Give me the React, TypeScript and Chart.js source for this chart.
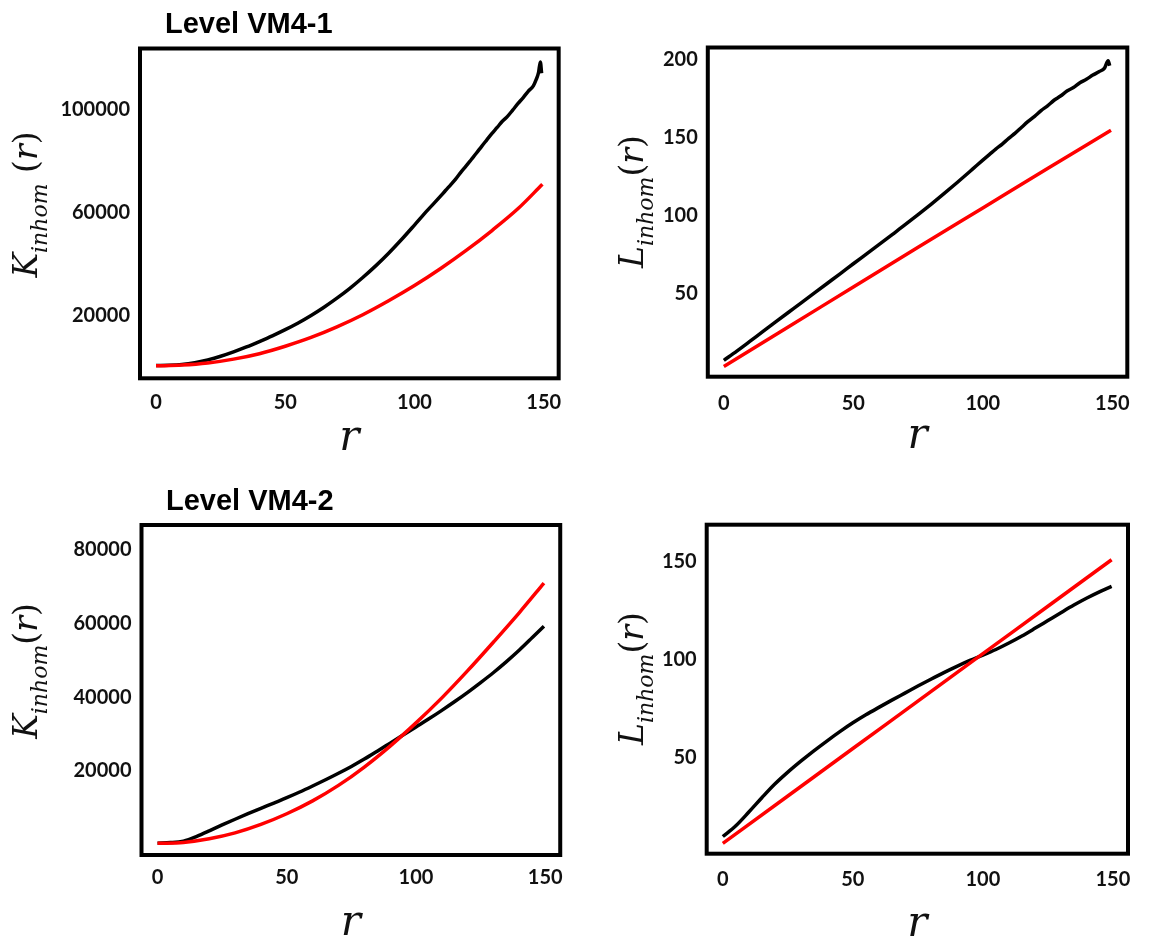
import React, { useEffect, useRef } from "react";
import { Chart, registerables } from "chart.js";

Chart.register(...registerables);

// ---------- shared ----------
const X_TICKS = [0, 50, 100, 150];
const X_MIN = -6.2;
const X_MAX = 155.8;

// ---------- Level VM4-1 : K_inhom(r) ----------
const TL_TITLE = "Level VM4-1";
const TL_Y_TICKS = [20000, 60000, 100000];
const TL_BLACK_R = [0, 5, 10, 15, 20, 25, 30, 35, 40, 45, 50, 55, 60, 65, 70, 75, 80, 85, 90, 95, 100, 105, 110, 112, 114, 116, 118, 120, 122, 124, 126, 128, 130, 132, 134, 136, 138, 140, 142, 144, 146, 147, 148, 148.7, 149.2];
const TL_BLACK_K = [800, 900, 1200, 1900, 3000, 4400, 6100, 8000, 10100, 12300, 14700, 17300, 20200, 23400, 26900, 30700, 34900, 39400, 44300, 49600, 55200, 60900, 66300, 68600, 70800, 73100, 75700, 78100, 80600, 83100, 85700, 88200, 90700, 93000, 95400, 97300, 99700, 102200, 104500, 107000, 109100, 111300, 114200, 118400, 114000];
const TL_RED_R = [0, 10, 20, 30, 40, 50, 60, 70, 80, 90, 100, 110, 120, 130, 140, 149.5];
const TL_RED_K = [700, 1000, 1800, 3300, 5400, 8300, 11700, 15800, 20500, 25900, 31800, 38300, 45400, 53100, 61500, 71000];

// ---------- Level VM4-1 : L_inhom(r) ----------
const TR_Y_TICKS = [50, 100, 150, 200];
const TR_BLACK_R = [0, 5, 10, 15, 20, 25, 30, 35, 40, 45, 50, 55, 60, 65, 70, 75, 80, 85, 90, 95, 97.5, 100, 102.5, 105, 107.5, 110, 112.5, 115, 117.5, 120, 122.5, 125, 127.5, 130, 132.5, 135, 137.5, 140, 142.5, 145, 147, 148.4, 149];
const TR_BLACK_L = [7.5, 13.4, 19.6, 25.9, 32.1, 38.3, 44.5, 50.7, 56.9, 63.1, 69.4, 75.6, 81.8, 88.1, 94.4, 100.9, 107.5, 114.3, 121.3, 128.5, 132.2, 135.8, 139.3, 142.9, 146.1, 149.8, 153.1, 156.9, 160.6, 163.9, 167.6, 170.6, 174.2, 176.9, 180.1, 182.3, 185.4, 187.6, 190.3, 192.6, 194.8, 199.5, 196.3];
const TR_RED_R = [0, 25, 50, 75, 100, 125, 149.5];
const TR_RED_L = [3.5, 29, 54.5, 80, 105.2, 130.4, 155];

// ---------- Level VM4-2 : K_inhom(r) ----------
const BL_TITLE = "Level VM4-2";
const BL_Y_TICKS = [20000, 40000, 60000, 80000];
const BL_BLACK_R = [0, 5, 10, 12, 15, 20, 25, 30, 35, 40, 45, 50, 55, 60, 65, 70, 75, 80, 85, 90, 95, 100, 105, 110, 115, 120, 125, 130, 135, 140, 145, 149.5];
const BL_BLACK_K = [250, 450, 850, 1250, 2100, 3650, 5250, 6800, 8300, 9750, 11200, 12650, 14200, 15850, 17550, 19300, 21150, 23150, 25300, 27500, 29700, 31900, 34100, 36400, 38800, 41300, 43950, 46700, 49650, 52800, 56200, 59300];
const BL_RED_R = [0, 10, 20, 30, 40, 50, 60, 70, 80, 90, 100, 110, 120, 130, 140, 149.5];
const BL_RED_K = [250, 500, 1500, 3100, 5400, 8300, 11800, 16000, 21000, 26700, 33000, 39800, 47200, 55000, 63000, 71000];

// ---------- Level VM4-2 : L_inhom(r) ----------
const BR_Y_TICKS = [50, 100, 150];
const BR_BLACK_R = [0, 5, 10, 15, 20, 25, 30, 35, 40, 45, 50, 55, 60, 65, 70, 75, 80, 85, 90, 95, 100, 105, 110, 115, 120, 125, 130, 135, 140, 145, 149.5];
const BR_BLACK_L = [9.5, 15, 22, 29.3, 36.3, 42.4, 48, 53.3, 58.3, 63.1, 67.6, 71.7, 75.5, 79.2, 82.8, 86.4, 89.9, 93.3, 96.5, 99.5, 102.2, 105.1, 108.4, 112, 115.9, 119.9, 123.9, 127.8, 131.4, 134.7, 137.4];
const BR_RED_R = [0, 25, 50, 75, 100, 125, 149.5];
const BR_RED_L = [6, 30.2, 54.5, 78.7, 103, 127.2, 151];

// ---------- styles ----------
const BLACK = "#000000";
const RED = "#ff0000";
const TICK_COLOR = "#111111";
const TICK_FONT = { family: "Lato", weight: "bold" as const, size: 20, lineHeight: 1.2 };

type PanelSpec = {
  left: number;
  top: number;
  width: number;
  height: number;
  padTop: number;
  padRight: number;
  yWidth: number;
  xHeight: number;
  yMin: number;
  yMax: number;
  yTicks: number[];
  xTickPad: number;
  xTitlePad: number;
  letter: string;
  space: boolean;
  labelX: number;
  labelY: number;
  title?: string;
  titleX?: number;
  titleY?: number;
  blackR: number[];
  blackV: number[];
  redR: number[];
  redV: number[];
};

const toPoints = (xs: number[], ys: number[]) => xs.map((x, i) => ({ x, y: ys[i] }));

function drawYLabel(ctx: CanvasRenderingContext2D, letter: string, space: boolean, bx: number, cy: number) {
  const main = 'italic 33px "DejaVu Serif"';
  const sub = 'italic 22px "DejaVu Serif"';
  const upright = '33px "DejaVu Serif"';
  const pieces: [string, string, number][] = [
    [letter, main, 0],
    ["inhom", sub, 10],
  ];
  if (space) pieces.push([" ", main, 0]);
  pieces.push(["(", upright, 0], ["r", main, 0], [")", upright, 0]);
  let total = 0;
  const widths: number[] = [];
  for (const [t, f] of pieces) {
    ctx.font = f;
    const w = ctx.measureText(t).width;
    widths.push(w);
    total += w;
  }
  ctx.save();
  ctx.translate(bx, cy);
  ctx.rotate(-Math.PI / 2);
  ctx.fillStyle = "#111111";
  ctx.textBaseline = "alphabetic";
  ctx.textAlign = "left";
  let x = -total / 2;
  pieces.forEach(([t, f, shift], i) => {
    ctx.font = f;
    ctx.fillText(t, x, shift);
    x += widths[i];
  });
  ctx.restore();
}

function Panel({ spec }: { spec: PanelSpec }) {
  const ref = useRef<HTMLCanvasElement | null>(null);
  useEffect(() => {
    if (!ref.current) return;
    const s = spec;
    const decor = {
      id: "decor",
      afterDraw(chart: any) {
        const ctx = chart.ctx as CanvasRenderingContext2D;
        const a = chart.chartArea;
        ctx.save();
        ctx.strokeStyle = "#000000";
        ctx.lineWidth = 4;
        ctx.strokeRect(a.left, a.top, a.right - a.left, a.bottom - a.top);
        ctx.restore();
        drawYLabel(ctx, s.letter, s.space, s.labelX, s.labelY);
        if (s.title) {
          ctx.save();
          ctx.font = 'bold 29px "Liberation Sans"';
          ctx.fillStyle = "#000000";
          ctx.textAlign = "left";
          ctx.textBaseline = "alphabetic";
          ctx.fillText(s.title, s.titleX || 0, s.titleY || 0);
          ctx.restore();
        }
      },
    };
    const chart = new Chart(ref.current, {
      type: "line",
      data: {
        datasets: [
          {
            data: toPoints(s.redR, s.redV),
            borderColor: RED,
            borderWidth: 3.5,
            pointRadius: 0,
            fill: false,
            cubicInterpolationMode: "monotone",
          },
          {
            data: toPoints(s.blackR, s.blackV),
            borderColor: BLACK,
            borderWidth: 3.5,
            pointRadius: 0,
            fill: false,
            cubicInterpolationMode: "monotone",
          },
        ],
      },
      options: {
        animation: false,
        responsive: false,
        maintainAspectRatio: false,
        events: [],
        layout: { padding: { left: 0, top: s.padTop, right: s.padRight, bottom: 0 } },
        plugins: {
          legend: { display: false },
          tooltip: { enabled: false },
          title: { display: false },
        },
        scales: {
          x: {
            type: "linear",
            min: X_MIN,
            max: X_MAX,
            grid: { display: false, drawTicks: false },
            border: { display: false },
            ticks: {
              font: TICK_FONT,
              color: TICK_COLOR,
              padding: s.xTickPad,
              maxRotation: 0,
              callback: (v: any) => String(v),
            },
            afterBuildTicks: (scale: any) => {
              scale.ticks = X_TICKS.map((v) => ({ value: v }));
            },
            afterFit: (scale: any) => {
              scale.height = s.xHeight;
            },
            title: {
              display: true,
              text: "r",
              color: "#111111",
              font: { family: "DejaVu Serif", style: "italic", size: 42, lineHeight: 0.5 },
              padding: { top: 0, bottom: s.xTitlePad },
            },
          },
          y: {
            type: "linear",
            min: s.yMin,
            max: s.yMax,
            grid: { display: false, drawTicks: false },
            border: { display: false },
            ticks: {
              font: TICK_FONT,
              color: TICK_COLOR,
              padding: 10,
              callback: (v: any) => String(v),
            },
            afterBuildTicks: (scale: any) => {
              scale.ticks = s.yTicks.map((v) => ({ value: v }));
            },
            afterFit: (scale: any) => {
              scale.width = s.yWidth;
            },
          },
        },
      } as any,
      plugins: [decor],
    });
    return () => chart.destroy();
  }, [spec]);
  return (
    <canvas
      ref={ref}
      width={spec.width}
      height={spec.height}
      style={{
        position: "absolute",
        left: spec.left,
        top: spec.top,
        width: spec.width,
        height: spec.height,
      }}
    />
  );
}

const PANELS: PanelSpec[] = [
  {
    left: 0, top: 0, width: 574, height: 468,
    padTop: 48.5, padRight: 11.5, yWidth: 140, xHeight: 89.7,
    yMin: -4124, yMax: 123580, yTicks: TL_Y_TICKS,
    xTickPad: 12.5, xTitlePad: 18.8,
    letter: "K", space: true, labelX: 37, labelY: 204.5,
    title: TL_TITLE, titleX: 165, titleY: 33.3,
    blackR: TL_BLACK_R, blackV: TL_BLACK_K, redR: TL_RED_R, redV: TL_RED_K,
  },
  {
    left: 574, top: 0, width: 575, height: 468,
    padTop: 47.5, padRight: 21.7, yWidth: 133.8, xHeight: 91.3,
    yMin: -3.0, yMax: 208, yTicks: TR_Y_TICKS,
    xTickPad: 15, xTitlePad: 20.8,
    letter: "L", space: false, labelX: 69, labelY: 201.5,
    blackR: TR_BLACK_R, blackV: TR_BLACK_L, redR: TR_RED_R, redV: TR_RED_L,
  },
  {
    left: 0, top: 468, width: 574, height: 468,
    padTop: 57, padRight: 10, yWidth: 141.5, xHeight: 81,
    yMin: -2920, yMax: 86800, yTicks: BL_Y_TICKS,
    xTickPad: 11, xTitlePad: 1.3,
    letter: "K", space: false, labelX: 37, labelY: 203,
    title: BL_TITLE, titleX: 166, titleY: 42,
    blackR: BL_BLACK_R, blackV: BL_BLACK_K, redR: BL_RED_R, redV: BL_RED_K,
  },
  {
    left: 574, top: 468, width: 575, height: 468,
    padTop: 56.7, padRight: 21, yWidth: 132.7, xHeight: 82.3,
    yMin: 0.7, yMax: 168.9, yTicks: BR_Y_TICKS,
    xTickPad: 14, xTitlePad: 0.6,
    letter: "L", space: false, labelX: 69, labelY: 210.5,
    blackR: BR_BLACK_R, blackV: BR_BLACK_L, redR: BR_RED_R, redV: BR_RED_L,
  },
];

export default function App() {
  return (
    <div
      style={{
        position: "absolute",
        left: 0,
        top: 0,
        width: 1149,
        height: 936,
        background: "#ffffff",
        overflow: "hidden",
      }}
    >
      {PANELS.map((p, i) => (
        <Panel key={i} spec={p} />
      ))}
    </div>
  );
}
